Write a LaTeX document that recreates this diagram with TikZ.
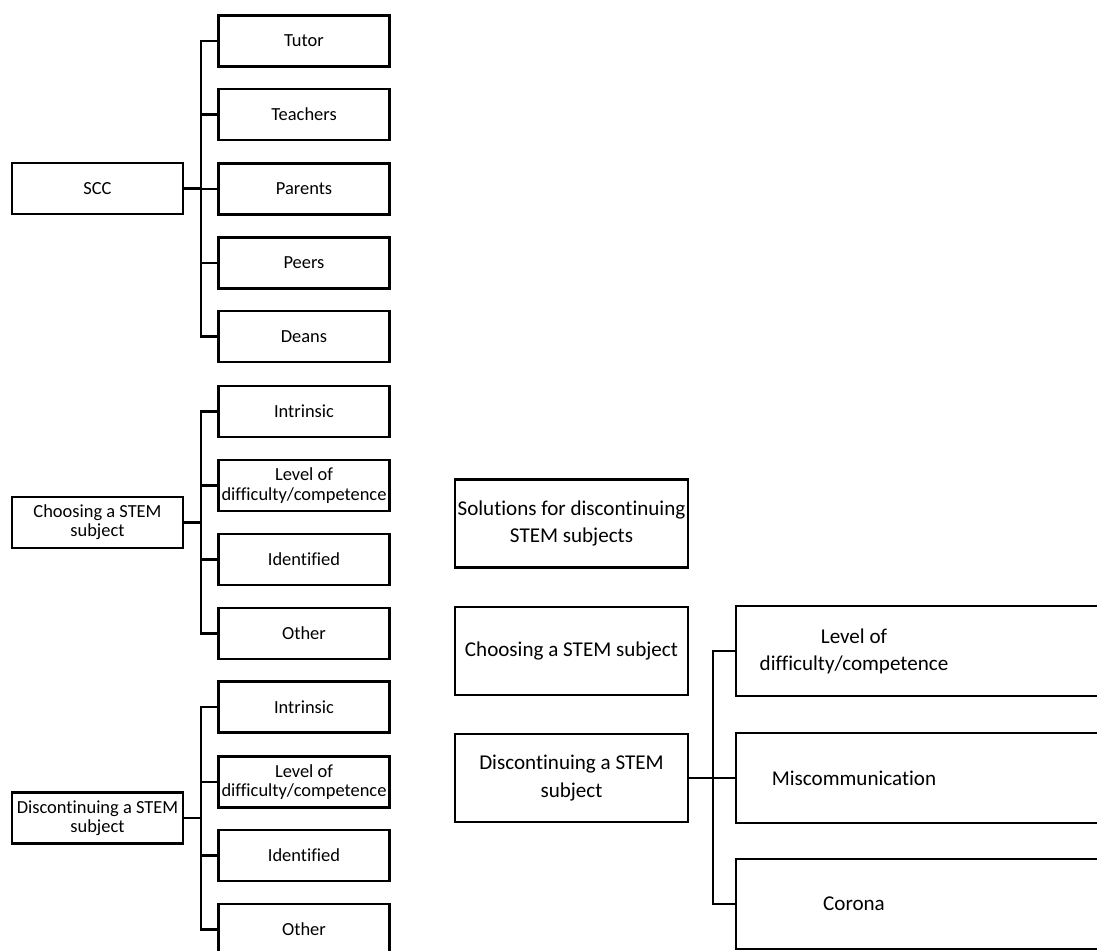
\documentclass[tikz,border=0pt]{standalone}
\usepackage{fontspec}
\setmainfont{Carlito}[Ligatures={NoCommon}]

\begin{document}
\begin{tikzpicture}[x=0.02cm,y=-0.02cm]
\tikzset{box/.style={draw,line width=1.4pt,minimum width=3.42cm,minimum height=1.02cm,inner sep=0pt,align=center,font=\fontsize{10.5}{11}\selectfont}}
\tikzset{bigbox/.style={draw,line width=1.4pt,minimum width=4.66cm,minimum height=1.76cm,inner sep=0pt,align=center,font=\fontsize{12}{15.5}\selectfont}}
\tikzset{opentext/.style={bigbox,draw=none,minimum width=4.68cm}}
\tikzset{link/.style={line width=1.4pt}}
\useasboundingbox (0,0) rectangle (1097,950);
\clip (0,0) rectangle (1097,950);
% trunks
\coordinate (b1) at (201,0);
\coordinate (b2) at (201,0);
\coordinate (b3) at (201,0);
\coordinate (b4) at (713,0);
\coordinate (e) at (1120,0);
% SCC
\node[box] (scc) at (97.5,188.5) {SCC};
\node[box] (tu) at (304,41) {Tutor};
\node[box] (te) at (304,114.5) {Teachers};
\node[box] (pa) at (304,189) {Parents};
\node[box] (pe) at (304,263) {Peers};
\node[box] (de) at (304,336.5) {Deans};
% choosing
\node[box] (ch) at (97.5,522.5) {Choosing a STEM\\subject};
\node[box] (ci) at (304,411.5) {Intrinsic};
\node[box] (cl) at (304,485.5) {Level of\\difficulty/competence};
\node[box] (cd) at (304,559.5) {Identified};
\node[box] (co) at (304,633.5) {Other};
% discontinuing
\node[box] (di) at (97.5,818) {Discontinuing a STEM\\subject};
\node[box] (dn) at (304,707) {Intrinsic};
\node[box] (dl) at (304,782) {Level of\\difficulty/competence};
\node[box] (dd) at (304,855.5) {Identified};
\node[box] (do) at (304,929.5) {Other};
% right side
\node[bigbox] (so) at (571.5,523.5) {Solutions for discontinuing\\STEM subjects};
\node[bigbox] (rch) at (571.5,651) {Choosing a STEM subject};
\node[bigbox] (rdi) at (571.5,778) {Discontinuing a STEM\\subject};
\node[opentext] (rl) at (854,651) {Level of\\difficulty/competence};
\node[opentext] (rm) at (854,778) {Miscommunication};
\node[opentext] (rc) at (854,904) {Corona};
\draw[link] (rl.north west) rectangle (rl.south -| e);
\draw[link] (rm.north west) rectangle (rm.south -| e);
\draw[link] (rc.north west) rectangle (rc.south -| e);
% connectors
\draw[link] (scc.east) -- (scc.east -| b1);
\foreach \c in {tu,te,pa,pe,de}
  \draw[link] (scc.east -| b1) |- (\c.west);
\draw[link] (ch.east) -- (ch.east -| b2);
\foreach \c in {ci,cl,cd,co}
  \draw[link] (ch.east -| b2) |- (\c.west);
\draw[link] (di.east) -- (di.east -| b3);
\foreach \c in {dn,dl,dd,do}
  \draw[link] (di.east -| b3) |- (\c.west);
\draw[link] (rdi.east) -- (rdi.east -| b4);
\foreach \c in {rl,rm,rc}
  \draw[link] (rdi.east -| b4) |- (\c.west);
\end{tikzpicture}
\end{document}
